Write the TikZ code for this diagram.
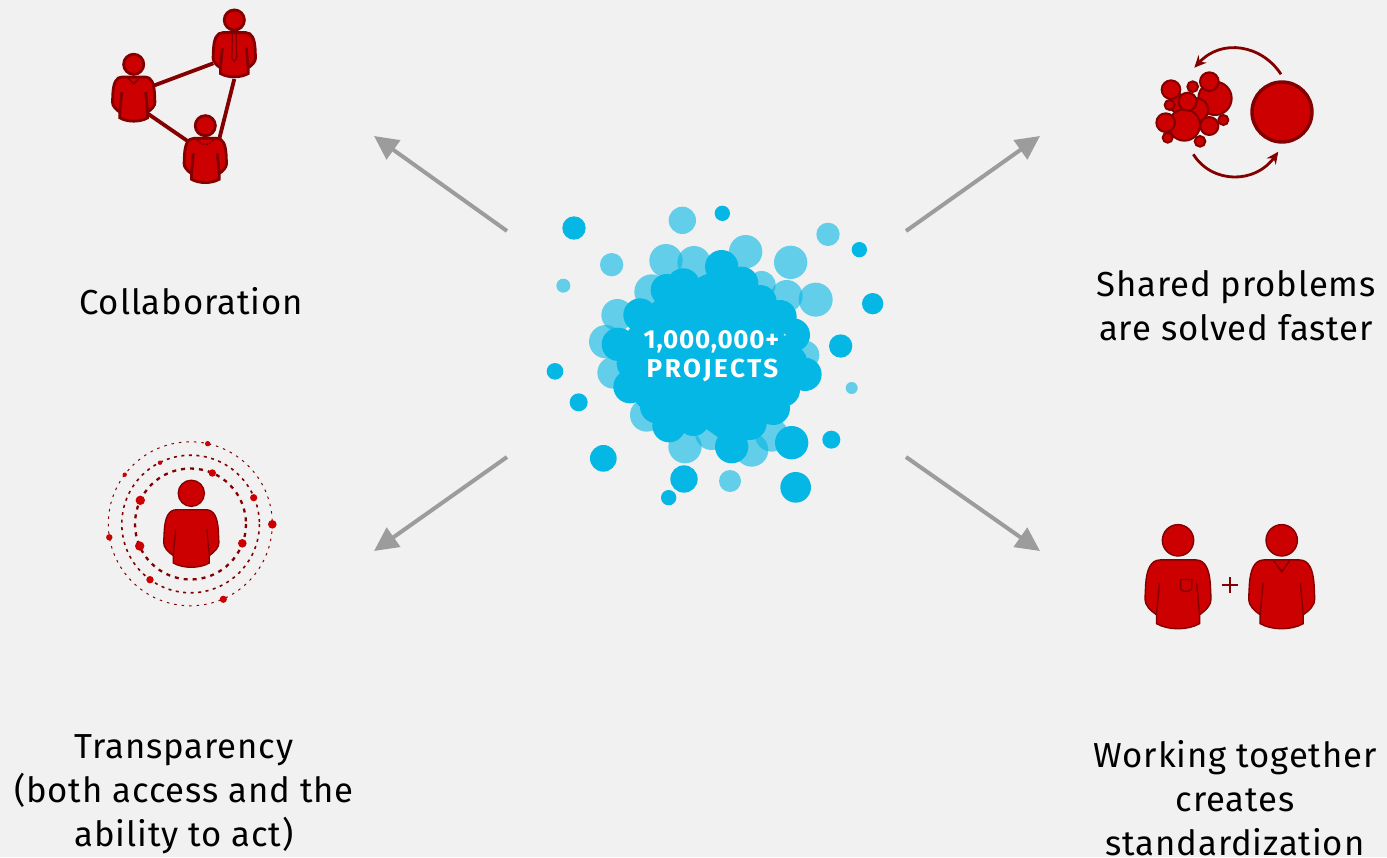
\documentclass[tikz,border=0pt]{standalone}
\usepackage{fontspec}
\setmainfont{Fira Sans}[LetterSpace=2.5]
\newfontfamily\blobfont{Fira Sans}[LetterSpace=3]
\newfontfamily\blobwide{Fira Sans}[LetterSpace=10]
\usetikzlibrary{arrows.meta}
\definecolor{pagebg}{HTML}{F1F1F1}
\definecolor{redfill}{HTML}{CC0000}
\definecolor{redline}{HTML}{820000}
\definecolor{greyarrow}{HTML}{9C9C9C}
\definecolor{bluedark}{HTML}{05B7E4}
\tikzset{
  x=1pt,y=-1pt,
  caption/.style={align=center,font=\fontsize{34.7}{44}\selectfont,text=black,inner sep=0pt},
  blobtext/.style={text=white,inner sep=0pt,font=\bfseries\fontsize{26}{28}\selectfont},
  bigarrow/.style={draw=greyarrow,line width=4pt,-{Triangle[length=24pt,width=23pt]}},
  tie/.style={draw=redline,line width=3.8pt},
  curvearrow/.style={draw=redline,line width=2.8pt,-{Stealth[length=12pt,width=11pt]}},
  bub/.style={fill=redfill,draw=redline,line width=2pt},
  dotmark/.style={fill=redfill,draw=none},
}
% cx, head cy, scale, line width, extra details
\newcommand{\personicon}[5]{%
  \begin{scope}[shift={(#1,#2)},scale=#3,fill=redfill,draw=redline,line width=#4]
    \filldraw (0,0) circle (16);
    \filldraw (-18,20) -- (18,20) .. controls (28,20) and (32,30) .. (33,45)
      -- (33.7,60) .. controls (34,66) and (28,72) .. (22,76) -- (22,85)
      .. controls (10,92) and (-10,92) .. (-22,85) -- (-22,76)
      .. controls (-28,72) and (-34,66) .. (-33.7,60) -- (-33,45)
      .. controls (-32,30) and (-28,20) .. (-18,20) -- cycle;
    \draw (-19,44) -- (-22,76);
    \draw (19,44) -- (22,76);
    #5
  \end{scope}}
\begin{document}
\begin{tikzpicture}
\useasboundingbox (0,0) rectangle (1387,857);
\fill[pagebg] (0,0) rectangle (1387,857);

% --- central bubble cloud (coordinates in 3x units)
\begin{scope}[shift={(540,200)},scale=1/3]
  \foreach \a/\b/\r in {427/61/41,215/194/35,70/257/21,864/103/35,935/564/18,570/843/33,
     617/155/50,752/187/50,827/299/51,740/288/48,665/255/42,378/182/50,462/188/50,335/275/52,
     232/345/48,197/425/50,220/518/48,320/645/50,435/740/50,515/700/50,635/750/50,695/705/50,795/465/43}
     \fill[bluedark,fill opacity=.6] (\a,\b) circle (\r);
  \fill[bluedark] (545,200) -- (605,250) -- (660,305) -- (720,350) -- (760,405) -- (795,523)
     -- (730,570) -- (700,625) -- (630,670) -- (575,740) -- (460,660) -- (387,677) -- (350,620)
     -- (270,560) -- (235,433) -- (300,345) -- (380,270) -- (430,255) -- cycle;
  \foreach \a/\b/\r in {102/84/35,547/40/23,958/149/23,998/311/32,902/438/35,45/514/25,116/607/27,
     874/719/27,190/775/40,432/837/41,386/893/23,767/862/46,755/728/50,
     545/200/50,605/250/50,430/255/50,380/270/48,660/305/50,300/345/50,720/350/50,760/405/50,
     235/433/50,795/523/50,270/560/50,730/570/50,700/625/50,350/620/50,387/677/50,460/660/48,
     575/740/50,630/670/50,520/640/50,280/490/50,330/580/50,760/480/40}
     \fill[bluedark] (\a,\b) circle (\r);
\end{scope}
\node[blobtext] (mil) at (711.5,342) {\blobfont\bfseries 1,000,000+};
\node[blobtext] (proj) at (712.5,370) {\blobwide\bfseries PROJECTS};
\node[text=white,inner sep=0pt,font=\fontsize{6}{6}\selectfont] (star) at (785,336) {*};

% --- arrows
\coordinate (cTL) at (507,231); \coordinate (tTL) at (374,136);
\coordinate (cTR) at (906,231); \coordinate (tTR) at (1040,136);
\coordinate (cBL) at (507,457); \coordinate (tBL) at (374,551);
\coordinate (cBR) at (906,457); \coordinate (tBR) at (1040,551);
\draw[bigarrow] (cTL) -- (tTL);
\draw[bigarrow] (cTR) -- (tTR);
\draw[bigarrow] (cBL) -- (tBL);
\draw[bigarrow] (cBR) -- (tBR);

% --- collaboration
\coordinate (b1) at (152.7,86); \coordinate (a1) at (213.3,63.3);
\coordinate (a2) at (234.3,79); \coordinate (c2) at (219,140);
\coordinate (b3) at (148.3,114); \coordinate (c3) at (190,142.7);
\draw[tie] (b1) -- (a1);
\draw[tie] (a2) -- (c2);
\draw[tie] (b3) -- (c3);
\personicon{234.3}{20}{.63}{2.8pt}{
  \draw[line width=1.2pt] (-3,20) -- (3,20) -- (4,60) -- (0,66) -- (-4,60) -- cycle;}
\personicon{133.7}{64.3}{.63}{2.8pt}{
  \draw[line width=1.4pt] (-11,20) -- (0,31) -- (11,20);}
\personicon{205.3}{125.7}{.63}{2.8pt}{
  \draw[line width=1.6pt,dash pattern=on 2pt off 1.5pt] (-13,22) .. controls (-6,33) and (6,33) .. (13,22);}

% --- shared problems
\begin{scope}[shift={(1140,35)},scale=1/3]
  \foreach \a/\b/\r in {225/190/50,170/225/35,115/205/28,133/270/47,208/273/27,250/255/15,180/319/16,83/308/15,
     77/263/28,89/210/15,93/164/28,158/155/16,143/200/27,208/140/28}
     \filldraw[bub] (\a,\b) circle (\r);
  \filldraw[fill=redfill,draw=redline,line width=3.4pt] (426,231) circle (90);
\end{scope}
\coordinate (arcA) at (1281,74.3); \coordinate (arcB) at (1194.3,67.7);
\coordinate (arcC) at (1193.3,154.3); \coordinate (arcD) at (1278.3,151.7);
\draw[curvearrow] (arcA) .. controls (1262,45) and (1222,38) .. (arcB);
\draw[curvearrow] (arcC) .. controls (1212,184) and (1255,184) .. (arcD);

% --- transparency
\draw[draw=redline,line width=1pt,dash pattern=on 2.5pt off 5pt] (190.3,523.8) circle (82);
\draw[draw=redline,line width=1.6pt,dash pattern=on 3pt off 4.5pt] (190.6,524) circle (68.8);
\draw[draw=redline,line width=2.3pt,dash pattern=on 4pt off 5pt] (190.5,524) circle (55.5);
\foreach \a/\b/\r in {207.7/443.7/2.7,160/462.7/2.2,124.7/474.7/2.2,140.3/500.3/4.7,212.3/473/3.7,
   253.7/497.7/3.6,272.3/524.3/4.3,109.3/537.3/3.2,139.7/546/4.7,242.3/543.3/4.3,150/579.7/3.7,223.3/599.3/3.6}
   \fill[dotmark] (\a,\b) circle (\r);
\personicon{191.3}{493.3}{.82}{1.3pt}{}

% --- standardization
\personicon{1178}{540.3}{.98}{1.4pt}{
  \draw (2.7,40) -- (14,40) -- (14,50) .. controls (10,53) and (6,53) .. (2.7,50) -- cycle;}
\personicon{1281.7}{540.3}{.98}{1.4pt}{
  \draw (-8,21) -- (0,32) -- (8,21);}
\coordinate (pL) at (1221.5,585); \coordinate (pR) at (1238,585);
\coordinate (pT) at (1229.7,577); \coordinate (pB) at (1229.7,593);
\draw[redline,line width=2pt] (pL) -- (pR);
\draw[redline,line width=2pt] (pT) -- (pB);

% --- captions
\node[caption] (capA) at (191,301) {Collaboration};
\node[caption] (capB) at (1236,306) {Shared problems\\are solved faster};
\node[caption] (capC) at (184,794) {Transparency\\(both access and the\\ability to act)};
\node[caption] (capD) at (1235,798) {Working together\\creates\\standardization};
\end{tikzpicture}
\end{document}
